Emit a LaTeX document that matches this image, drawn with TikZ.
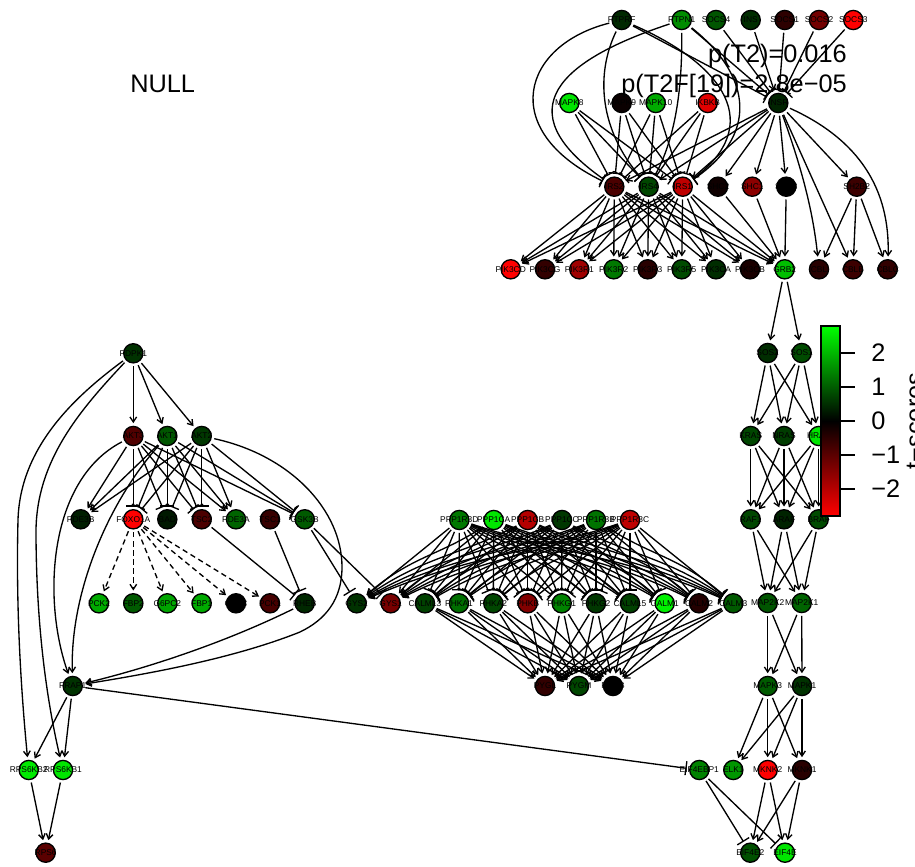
\documentclass[tikz,border=0pt]{standalone}
\usepackage{fontspec}
\setmainfont{Liberation Sans}
\usetikzlibrary{arrows.meta}
\pgfdeclarelayer{bg}
\pgfsetlayers{bg,main}
\tikzset{
  gene/.style={circle,draw=black,line width=1pt,minimum size=14.4pt,inner sep=0pt,outer sep=2.4pt,font=\fontsize{6.3}{7}\selectfont,text=black},
  gr/.style={gene,fill={rgb,255:red,0;green,#1;blue,0}},
  rd/.style={gene,fill={rgb,255:red,#1;green,0;blue,0}},
  ar/.style={line width=1pt,-{Straight Barb[length=3.8pt,width=5pt,line width=1pt]}},
  te/.style={line width=1pt,-{Bar[width=10.5pt,line width=1pt]}},
  da/.style={ar,dash pattern=on 4pt off 2.8pt},
  big/.style={font=\fontsize{19}{22}\selectfont,inner sep=0pt,text=black}
}
\newcommand\lb[1]{\makebox[0pt][c]{#1}}
\newcommand\G[4]{\node[gr=#4] (#1) at (#2,#3) {\lb{#1}};}
\newcommand\R[4]{\node[rd=#4] (#1) at (#2,#3) {\lb{#1}};}
\newcommand\Arr[2]{\foreach \sA in {#1}{\foreach \tB in {#2}{\draw[ar] (\sA)--(\tB);}}}
\newcommand\Tee[2]{\foreach \sA in {#1}{\foreach \tB in {#2}{\draw[te] (\sA)--(\tB);}}}
\newcommand\Dsh[2]{\foreach \sA in {#1}{\foreach \tB in {#2}{\draw[da] (\sA)--(\tB);}}}
% fan edge: straight when near, flattened through the middle when far
\newcommand\Fan[3]{%
 \foreach \sA/\sx in {PPP1R3D/459.3,PPP1CA/493.7,PPP1CB/527.7,PPP1CC/562,PPP1R3B/596,PPP1R3C/630}{%
  \foreach \tB/\tx in {#1}{%
   \pgfmathsetmacro\cA{\sx+0.4*(\tx-\sx)}%
   \pgfmathsetmacro\cB{\sx+0.6*(\tx-\sx)}%
   \pgfmathtruncatemacro\far{abs(\tx-\sx)>120 ? 1 : 0}%
   \ifnum\far=1 \draw[#2] (\sA) .. controls (\cA,556) and (\cB,556) .. (\tB);%
   \else \draw[#2] (\sA) -- (\tB);\fi
  }}}
\begin{document}
\begin{tikzpicture}[x=0.75pt,y=-0.75pt]
\useasboundingbox (0,0) rectangle (915,867);
% top
\G{PTPRF}{621.7}{20}{40}\G{PTPN1}{681.7}{20}{140}\G{SOCS4}{716}{20}{85}\G{INS}{750.7}{20}{45}
\R{SOCS1}{784.7}{20}{45}\R{SOCS2}{819}{20}{115}\R{SOCS3}{853.3}{20}{255}
\G{MAPK8}{569.3}{103}{230}\R{MAPK9}{621.7}{103}{10}\G{MAPK10}{655.7}{103}{170}\R{IKBKB}{707.7}{103}{225}\G{INSR}{778.3}{103}{35}
\R{IRS2}{614.3}{186.7}{75}\G{IRS4}{648.7}{186.7}{70}\R{IRS1}{682.7}{186.7}{190}
\R{SHC2}{718}{186.7}{15}\R{SHC1}{752.3}{186.7}{140}\R{SHC3}{786.3}{186.7}{0}\R{SH2B2}{856.7}{186.7}{60}
\R{PIK3CD}{510.7}{269.3}{255}\R{PIK3CG}{545}{269.3}{50}\R{PIK3R1}{579.3}{269.3}{160}\G{PIK3R2}{613.7}{269.3}{120}
\R{PIK3R3}{647.7}{269.3}{40}\G{PIK3R5}{681.7}{269.3}{75}\G{PIK3CA}{716}{269.3}{45}\R{PIK3CB}{750}{269.3}{25}
\G{GRB2}{784.7}{269.3}{190}\R{CBL}{819}{269.3}{40}\R{CBLB}{853}{269.3}{60}\R{CBLC}{887.7}{269.3}{50}
% right column
\G{SOS2}{767.7}{353}{45}\G{SOS1}{801.7}{353}{75}
\G{KRAS}{750.7}{436}{70}\G{NRAS}{784}{436}{60}\G{HRAS}{818.7}{436}{230}
\G{RAF1}{750.7}{519.3}{70}\G{ARAF}{784}{519.3}{35}\G{BRAF}{818.7}{519.3}{75}
\G{MAP2K2}{767.7}{603}{85}\G{MAP2K1}{801.7}{603}{100}
\G{MAPK3}{767.7}{686}{90}\G{MAPK1}{802}{686}{50}
\G{EIF4EBP1}{699.3}{770}{130}\G{ELK1}{733.3}{770}{150}\R{MKNK2}{767.7}{770}{255}\R{MKNK1}{802}{770}{40}
\G{EIF4E2}{750.3}{852.7}{80}\G{EIF4E}{785}{852.7}{230}
% left
\G{PDPK1}{133.3}{353.3}{50}
\R{AKT3}{133.3}{436}{80}\G{AKT1}{167.3}{436}{85}\G{AKT2}{201.7}{436}{55}
\G{PDE3B}{80.7}{519.3}{30}\R{FOXO1A}{133.3}{519.3}{255}\G{BAD}{167.3}{519.3}{25}\R{TSC2}{201.7}{519.3}{75}
\G{PDE3A}{236}{519.3}{100}\R{TSC1}{270}{519.3}{55}\G{GSK3B}{304.7}{519.3}{90}
\G{PCK2}{99}{603.3}{170}\G{FBP2}{133.3}{603.3}{90}\G{G6PC2}{167.3}{603.3}{165}\G{FBP1}{201.7}{603.3}{170}
\G{G6PC}{236}{603.3}{0}\R{PCK1}{270}{603.3}{70}\G{RHEB}{304.7}{603.3}{40}
\G{FRAP1}{72.7}{686}{50}
\G{RPS6KB2}{28.7}{770}{235}\G{RPS6KB1}{63}{770}{230}\R{RPS6}{45.7}{852.7}{90}
% centre
\G{PPP1R3D}{459.3}{520}{120}\G{PPP1CA}{493.7}{520}{230}\R{PPP1CB}{527.7}{520}{180}
\G{PPP1CC}{562}{520}{55}\G{PPP1R3B}{596}{520}{115}\R{PPP1R3C}{630}{520}{190}
\G{GYS2}{356.7}{603.3}{50}\R{GYS1}{390.7}{603.3}{120}\G{CALML3}{425}{603.3}{65}\G{PHKA1}{459}{603.3}{110}
\G{PHKA2}{493.3}{603.3}{70}\R{PHKB}{527.7}{603.3}{130}\G{PHKG1}{561.7}{603.3}{130}\G{PHKG2}{596}{603.3}{55}
\G{CALML5}{630}{603.3}{65}\G{CALM1}{664.7}{603.3}{240}\R{CALM2}{699}{603.3}{35}\G{CALM3}{733.3}{603.3}{90}
\R{PYGL}{545}{686}{50}\G{PYGM}{579}{686}{70}\R{PYGB}{613}{686}{0}
\begin{pgfonlayer}{bg}
% top block
\Arr{INS}{INSR}
\Tee{SOCS4,SOCS1,SOCS2,SOCS3,PTPN1,PTPRF}{INSR}
\Tee{MAPK8,MAPK9,MAPK10,IKBKB}{IRS2,IRS4,IRS1}
\draw[te] (PTPRF) .. controls (522,45) and (497,130) .. (IRS2);
\draw[te] (PTPN1) .. controls (560,60) and (505,110) .. (IRS2);
\draw[te] (PTPRF) .. controls (595,75) and (600,130) .. (IRS4);
\draw[te] (PTPN1) .. controls (682,70) and (680,130) .. (IRS4);
\draw[te] (PTPRF) .. controls (725,65) and (765,125) .. (IRS1);
\draw[te] (PTPN1) .. controls (745,70) and (765,130) .. (IRS1);
\Arr{INSR}{IRS2,IRS4,IRS1,SHC2,SHC1,SHC3,SH2B2,CBLB}
\draw[ar] (INSR) .. controls (795,150) and (812,200) .. (CBL);
\draw[ar] (INSR) .. controls (860,140) and (890,190) .. (CBLC);
\Arr{IRS2,IRS4,IRS1}{PIK3CD,PIK3CG,PIK3R1,PIK3R2,PIK3R3,PIK3R5,PIK3CA,PIK3CB,GRB2}
\Arr{SHC2,SHC1,SHC3}{GRB2}
\Arr{SH2B2}{CBL,CBLB,CBLC}
% right column
\Arr{GRB2}{SOS2,SOS1}
\Arr{SOS2,SOS1}{KRAS,NRAS,HRAS}
\Arr{KRAS,NRAS,HRAS}{RAF1,ARAF,BRAF}
\Arr{RAF1,ARAF,BRAF}{MAP2K2,MAP2K1}
\Arr{MAP2K2,MAP2K1}{MAPK3,MAPK1}
\Arr{MAPK3,MAPK1}{ELK1,MKNK2,MKNK1}
\Arr{MKNK2,MKNK1}{EIF4E2,EIF4E}
\Tee{EIF4EBP1}{EIF4E2,EIF4E}
% left block
\Arr{PDPK1}{AKT3,AKT1,AKT2}
\draw[ar] (PDPK1) .. controls (70,400) and (20,450) .. (18,520) .. controls (16,600) and (20,680) .. (RPS6KB2);
\draw[ar] (PDPK1) .. controls (80,410) and (37,460) .. (36,530) .. controls (36,600) and (42,680) .. (RPS6KB1);
\Arr{AKT3,AKT1,AKT2}{PDE3B,PDE3A}
\Tee{AKT3,AKT1,AKT2}{FOXO1A,BAD,TSC2,GSK3B}
\draw[ar] (AKT3) .. controls (48,480) and (42,600) .. (FRAP1);
\draw[ar] (AKT1) .. controls (110,500) and (70,590) .. (FRAP1);
\draw[ar] (AKT2) .. controls (290,455) and (342,510) .. (342,567) .. controls (342,600) and (325,620) .. (300,632) .. controls (230,660) and (140,675) .. (FRAP1);
\draw[ar] (RHEB) .. controls (220,645) and (140,670) .. (FRAP1);
\Dsh{FOXO1A}{PCK2,FBP2,G6PC2,FBP1,G6PC,PCK1}
\Tee{TSC2,TSC1}{RHEB}
\Tee{GSK3B}{GYS2,GYS1}
\Arr{FRAP1}{RPS6KB2,RPS6KB1}
\Arr{RPS6KB2,RPS6KB1}{RPS6}
\Tee{FRAP1}{EIF4EBP1}
% centre block
\Fan{GYS2/356.7,GYS1/390.7}{ar}{}
\Fan{CALML3/425,PHKA1/459,PHKA2/493.3,PHKB/527.7,PHKG1/561.7,PHKG2/596,CALML5/630,CALM1/664.7,CALM2/699,CALM3/733.3}{te}{}
\Arr{CALML3,PHKA1,PHKA2,PHKB,PHKG1,PHKG2,CALML5,CALM1,CALM2,CALM3}{PYGL,PYGM,PYGB}
\end{pgfonlayer}
% texts
\node[big,anchor=base west] (nulltxt) at (130,93) {NULL};
\node[big,anchor=base east] (ptwo) at (847,63) {p(T2)=0.016};
\node[big,anchor=base east] (ptwof) at (847,93) {p(T2F[19])=2.8e−05};
% colour key
\shade[top color={rgb,255:red,0;green,255;blue,0},bottom color=black] (821,326) rectangle (840,421);
\shade[top color=black,bottom color={rgb,255:red,255;green,0;blue,0}] (821,421) rectangle (840,516);
\draw[line width=1pt] (821,326) rectangle (840,516);
\foreach \yy/\tt in {353/2,387/1,421/0,455/−1,489/−2}{
  \draw[line width=1pt] (840,\yy) -- (855,\yy);
  \node[big,anchor=west] (tick\yy) at (871,\yy) {\tt};
}
\node[big,rotate=90,anchor=base] (keytitle) at (923,421) {t−scores};
\end{tikzpicture}
\end{document}
